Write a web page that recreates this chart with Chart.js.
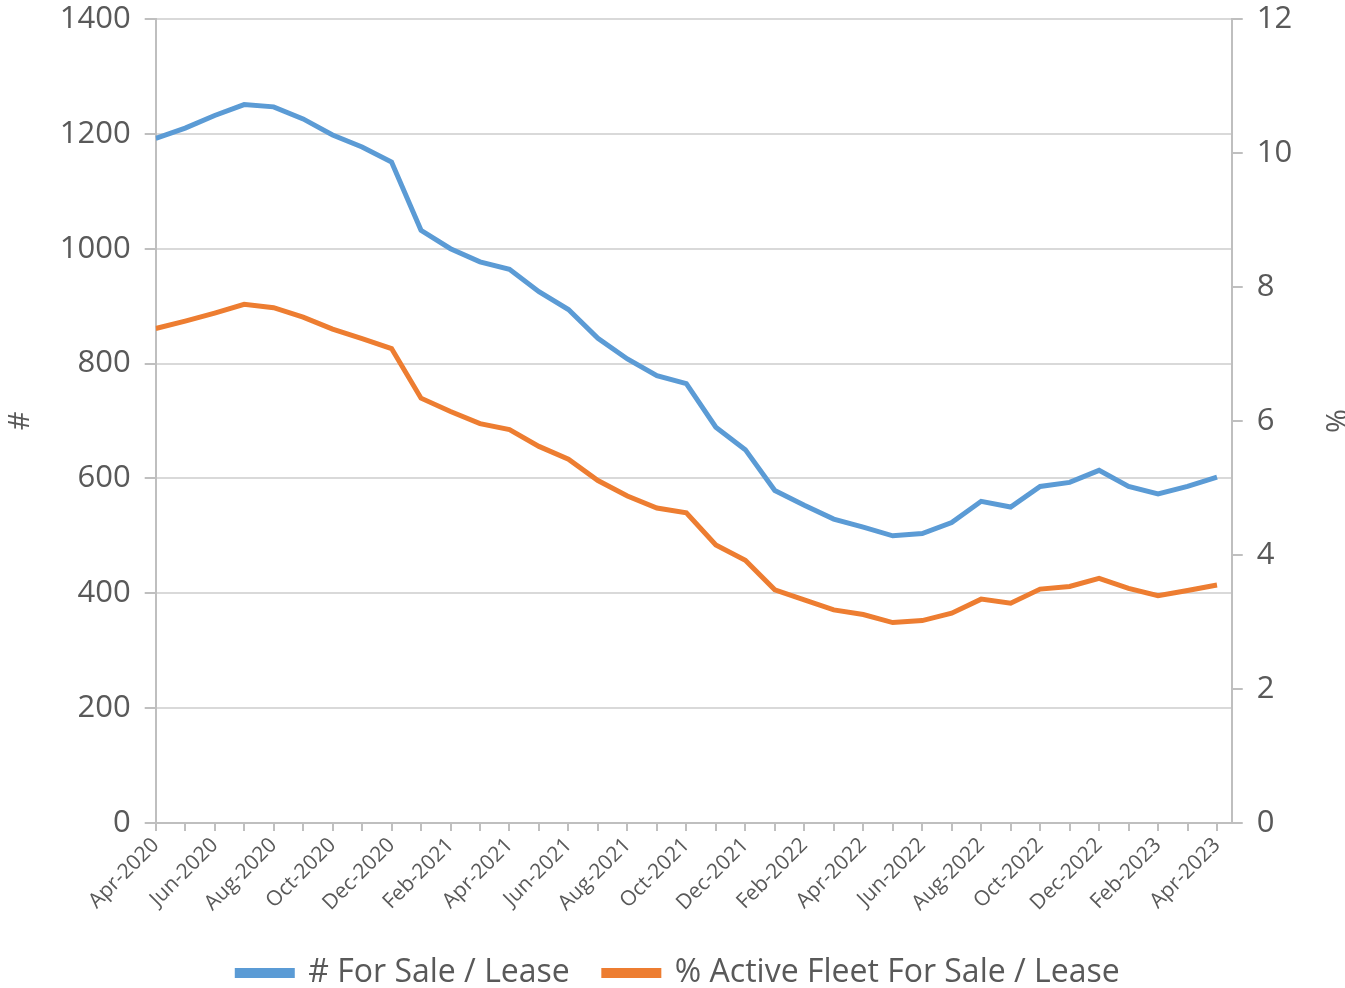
<!DOCTYPE html>
<html>
<head>
<meta charset="utf-8">
<script src="https://cdn.jsdelivr.net/npm/chart.js@4.4.1/dist/chart.umd.min.js"></script>
<style>
html,body{margin:0;padding:0;background:#fff;}
#wrap{width:1345px;height:988px;position:relative;}
</style>
</head>
<body>
<div id="wrap"><canvas id="c" width="1345" height="988"></canvas></div>
<script>
const months = ["Apr-2020","May-2020","Jun-2020","Jul-2020","Aug-2020","Sep-2020","Oct-2020","Nov-2020","Dec-2020",
"Jan-2021","Feb-2021","Mar-2021","Apr-2021","May-2021","Jun-2021","Jul-2021","Aug-2021","Sep-2021","Oct-2021","Nov-2021","Dec-2021",
"Jan-2022","Feb-2022","Mar-2022","Apr-2022","May-2022","Jun-2022","Jul-2022","Aug-2022","Sep-2022","Oct-2022","Nov-2022","Dec-2022",
"Jan-2023","Feb-2023","Mar-2023","Apr-2023"];
const forSaleCount = [1192,1210,1232,1251,1247,1226,1198,1177,1151,1032,1000,977,964,925,894,844,808,779,765,689,650,579,553,529,515,500,504,523,560,550,586,593,614,586,573,586,602];
const activeFleetPct = [7.38,7.49,7.61,7.74,7.69,7.55,7.37,7.23,7.08,6.34,6.14,5.96,5.87,5.62,5.43,5.11,4.88,4.70,4.63,4.15,3.92,3.48,3.33,3.18,3.11,2.99,3.02,3.13,3.34,3.28,3.49,3.53,3.65,3.50,3.39,3.47,3.55];
const leftTicks = [0,200,400,600,800,1000,1200,1400];
const rightTicks = [0,2,4,6,8,10,12];
const seriesNames = ["# For Sale / Lease","% Active Fleet For Sale / Lease"];

const FONT = "'Open Sans', 'Noto Sans', sans-serif";
const TXT = '#595959';
const GRID = '#d9d9d9';

const bg = {id:'bg',beforeDraw(ch){const c=ch.ctx;c.save();c.fillStyle='#fff';c.fillRect(0,0,ch.width,ch.height);c.restore();}};
const legendShift = {id:'legendShift',afterLayout(ch){ if(ch.legend){ ch.legend.left -= 16; ch.legend.right -= 16; } }};
const noVPad = (s)=>{s.paddingTop = 0; s.paddingBottom = 0;};

new Chart(document.getElementById('c'), {
  type: 'line',
  data: {
    datasets: [
      {label: seriesNames[0], data: forSaleCount.map((v,i)=>({x:i,y:v})), yAxisID:'y', borderColor:'#5B9BD5', backgroundColor:'#5B9BD5', borderWidth:5, pointRadius:0, tension:0},
      {label: seriesNames[1], data: activeFleetPct.map((v,i)=>({x:i,y:v})), yAxisID:'y2', borderColor:'#ED7D31', backgroundColor:'#ED7D31', borderWidth:5, pointRadius:0, tension:0}
    ]
  },
  options: {
    responsive:false, animation:false,
    layout:{padding:{left:-3,right:-47,top:19,bottom:-11}},
    plugins:{
      legend:{position:'bottom', labels:{font:{family:FONT,size:32}, color:TXT, boxWidth:55, boxHeight:5, padding:34}},
      tooltip:{enabled:false}
    },
    scales:{
      x:{type:'linear', min:0, max:36.5,
        afterFit(s){s.height += 5;},
        afterBuildTicks(s){s.ticks = months.map((m,i)=>({value:i}));},
        ticks:{autoSkip:false, maxRotation:45, minRotation:45, color:TXT, font:{family:FONT,size:21}, padding:2,
          callback:(v)=> (Number.isInteger(v) && v%2===0) ? months[v] : ''},
        grid:{drawOnChartArea:false, drawTicks:true, tickLength:8, color:'#bfbfbf', lineWidth:2},
        border:{color:'#bfbfbf', width:2}
      },
      y:{position:'left', min:0, max:1400, afterFit:noVPad,
        afterBuildTicks(s){s.ticks = leftTicks.map(v=>({value:v}));},
        ticks:{color:TXT, font:{family:FONT,size:31}, padding:14, callback:(v)=>String(v)},
        grid:{color:GRID, lineWidth:2, tickLength:11, tickColor:'#bfbfbf'},
        border:{color:'#bfbfbf', width:2},
        title:{display:true, text:'#', color:TXT, font:{family:FONT,size:29}, padding:{top:6,bottom:8}}
      },
      y2:{position:'right', min:0, max:12, afterFit:noVPad,
        afterBuildTicks(s){s.ticks = rightTicks.map(v=>({value:v}));},
        ticks:{color:TXT, font:{family:FONT,size:31}, padding:14, callback:(v)=>String(v)},
        grid:{drawOnChartArea:false, tickLength:11, color:'#bfbfbf', lineWidth:2},
        border:{color:'#bfbfbf', width:2},
        title:{display:true, text:'%', color:TXT, font:{family:FONT,size:29}, padding:{top:40,bottom:11}}
      }
    }
  },
  plugins:[bg, legendShift]
});
</script>
</body>
</html>
